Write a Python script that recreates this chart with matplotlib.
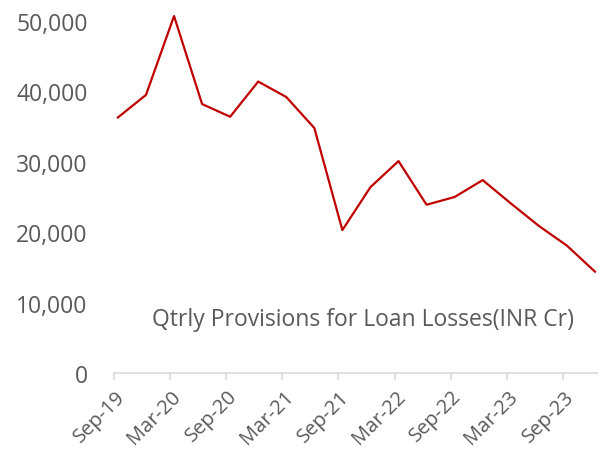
import matplotlib.pyplot as plt
import matplotlib.transforms as mtransforms
import numpy as np

# Quarterly provisions for loan losses, INR crore
quarters = ['Sep-19', 'Dec-19', 'Mar-20', 'Jun-20', 'Sep-20', 'Dec-20',
            'Mar-21', 'Jun-21', 'Sep-21', 'Dec-21', 'Mar-22', 'Jun-22',
            'Sep-22', 'Dec-22', 'Mar-23', 'Jun-23', 'Sep-23', 'Dec-23']
provisions = [36300, 39500, 50700, 38200, 36400, 41400,
              39200, 34800, 20300, 26400, 30100, 23900,
              25000, 27400, 24100, 20900, 18100, 14400]
y_ticks = [0, 10000, 20000, 30000, 40000, 50000]

plt.rcParams['font.family'] = ['Open Sans', 'DejaVu Sans']

fig = plt.figure(figsize=(5.98, 4.52), dpi=100)
ax = fig.add_axes([114 / 598, 78 / 452, 484 / 598, 374 / 452])

x = np.arange(len(quarters))
ax.plot(x, provisions, color='#C00000', linewidth=1.6, solid_joinstyle='round')

# ticks sit slightly left of each data point, every second quarter labelled
offset = 0.14
tick_idx = x[::2]
ax.set_xticks(tick_idx - offset)
ax.set_xticklabels([quarters[i] for i in tick_idx], rotation=45, ha='right',
                   va='center', rotation_mode='anchor', fontsize=14.5,
                   color='#595959')
ax.set_xlim(-offset, len(quarters) - 1 + 0.11)

ax.set_yticks(y_ticks)
ax.set_yticklabels([f'{v:,}' for v in y_ticks], fontsize=16.5, color='#595959')
ax.set_ylim(0, 53125)

for side in ['top', 'right', 'left']:
    ax.spines[side].set_visible(False)
ax.spines['bottom'].set_color('#D9D9D9')
ax.spines['bottom'].set_linewidth(1.2)
ax.tick_params(axis='x', length=5, color='#D9D9D9', width=1.2, pad=8)
ax.tick_params(axis='y', length=0, pad=19)

# nudge the rotated date labels to the right (after tick_params, which resets transforms)
shift = mtransforms.ScaledTranslation(8 / 100, -2 / 100, fig.dpi_scale_trans)
for lbl in ax.get_xticklabels():
    lbl.set_transform(lbl.get_transform() + shift)

ax.text(0.078, 0.145, 'Qtrly Provisions for Loan Losses(INR Cr)',
        transform=ax.transAxes, fontsize=16.5, color='#595959', va='center')

fig.savefig('out.png', dpi=100)
